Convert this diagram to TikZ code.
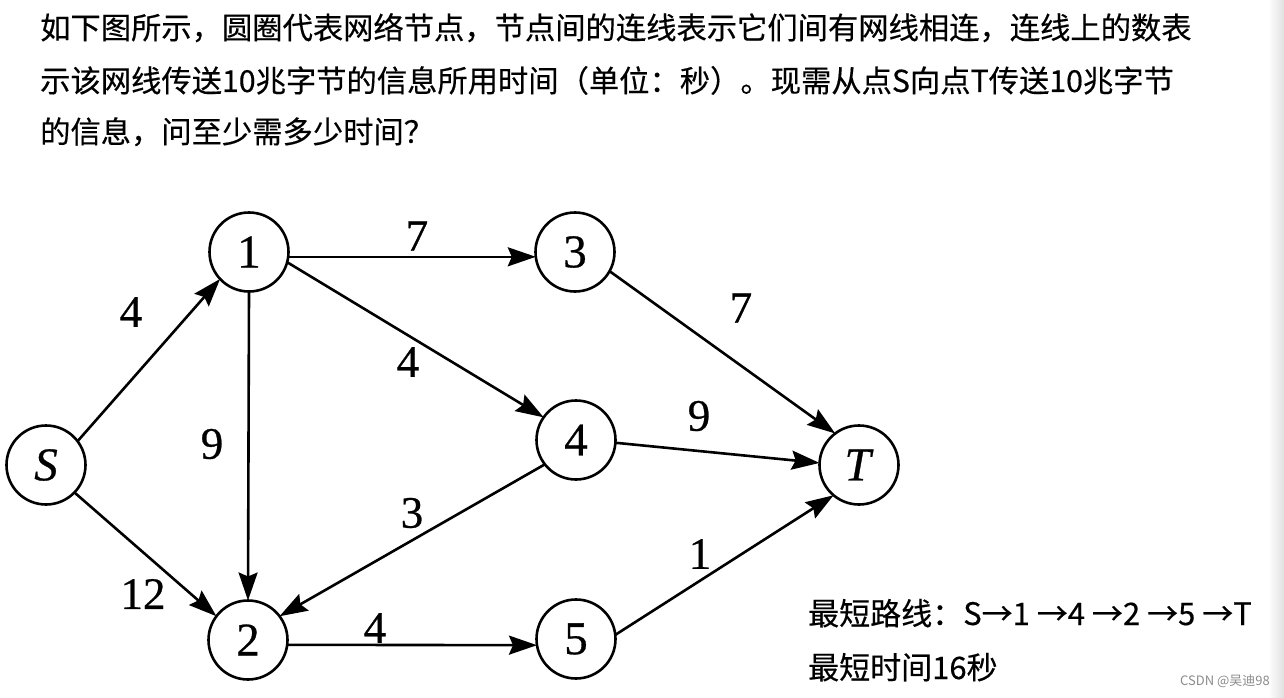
\documentclass[tikz,border=0pt]{standalone}
\usepackage{fontspec}
\setmainfont{Liberation Serif}[FakeBold=0.6]
\newfontfamily\cjk{Noto Sans CJK SC}[FakeBold=0.4]
\newfontfamily\cjkw{Noto Sans CJK SC}
\usetikzlibrary{arrows.meta}
\begin{document}
\begin{tikzpicture}[x=1pt,y=-1pt,
  vtx/.style={circle,draw,line width=2.6pt,minimum size=79pt,inner sep=0pt,outer sep=0pt,font=\fontsize{47}{47}\selectfont},
  edge/.style={line width=2.6pt,-{Stealth[length=28pt,width=19pt,inset=4pt]}},
  wlab/.style={font=\fontsize{45}{45}\selectfont,inner sep=0pt},
  txt/.style={font=\cjk\fontsize{30.3}{30.3}\selectfont,inner sep=0pt,anchor=base west},
  rtxt/.style={txt,font=\cjk\fontsize{31}{31}\selectfont}]
\useasboundingbox (0,0) rectangle (1284,698);
\fill[white] (0,0) rectangle (1284,698);
\shade[left color=white,right color=black!12] (1268,0) rectangle (1284,698);
% text
\node[txt] (t1) at (40,39) {如下图所示，圆圈代表网络节点，节点间的连线表示它们间有网线相连，连线上的数表};
\node[txt] (t2) at (40,92) {示该网线传送10兆字节的信息所用时间（单位：秒）。现需从点S向点T传送10兆字节};
\node[txt] (t3) at (40,143) {的信息，问至少需多少时间？};
\node[rtxt] (r1) at (808,625) {最短路线：S→1 →4 →2 →5 →T};
\node[rtxt] (r2) at (808,679) {最短时间16秒};
\node[font=\cjkw\fontsize{13}{13}\selectfont,text=black!45,inner sep=0pt] (wm) at (1225,681) {CSDN @吴迪98};
% nodes
\node[vtx] (S) at (46,465) {\textit{S}};
\node[vtx] (n1) at (249,252) {1};
\node[vtx] (n3) at (575,252) {3};
\node[vtx] (n4) at (576,440) {4};
\node[vtx] (T) at (859,465) {\textit{T}};
\node[vtx] (n2) at (248,640) {2};
\node[vtx] (n5) at (576,639) {5};
% edges
\draw[edge] (S.37) -- (n1.223);
\draw[edge] (S.-44) -- (n2.143);
\draw[edge] (n1.-90) -- (n2.90);
\draw[edge] (n1.-7) -- (n3.187);
\draw[edge] (n1.-15) -- (n4.145);
\draw[edge] (n3.-29) -- (T.127);
\draw[edge] (n4.-4) -- (T.177);
\draw[edge] (n4.218) -- (n2.37);
\draw[edge] (n2.-7) -- (n5.189);
\draw[edge] (n5.6) -- (T.230);
% weights
\node[wlab] (w1) at (131,312) {4};
\node[wlab] (w2) at (143,594) {12};
\node[wlab] (w3) at (212,444) {9};
\node[wlab] (w4) at (417,236) {7};
\node[wlab] (w5) at (408,362) {4};
\node[wlab] (w6) at (741,308) {7};
\node[wlab] (w7) at (699,416) {9};
\node[wlab] (w8) at (412,513) {3};
\node[wlab] (w9) at (375,628) {4};
\node[wlab] (w10) at (700,554) {1};
\end{tikzpicture}
\end{document}
